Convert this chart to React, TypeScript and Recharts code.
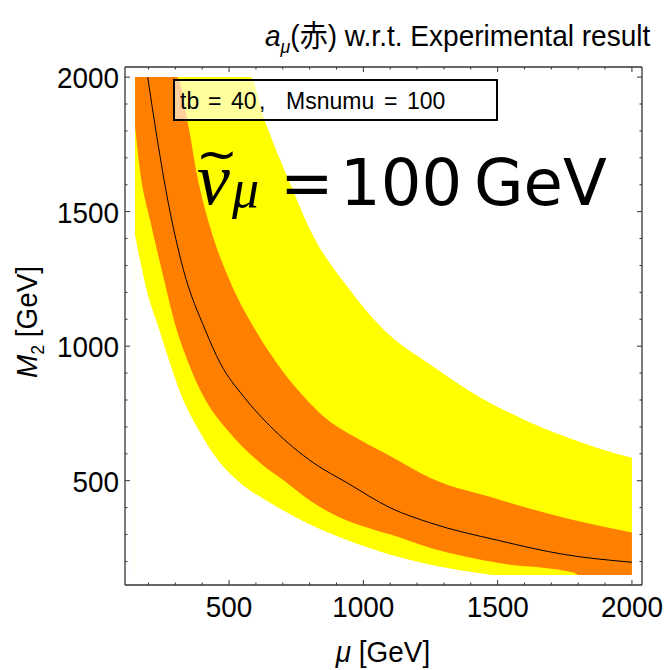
import React from 'react';
import { ComposedChart, Area, Line, XAxis, YAxis } from 'recharts';

// Boundaries: mu [GeV] and M2 [GeV]
const yellowUpperMu = [150, 579, 628, 722, 815, 940, 1076, 1250, 1437, 1599, 1748, 1872, 2000];
const yellowUpperM2 = [2000, 2000, 1853, 1618, 1407, 1222, 1061, 931, 808, 727, 665, 622, 585];

const orangeUpperMu = [150, 305, 349, 380, 430, 504, 604, 678, 778, 852, 964, 1101, 1250, 1499, 1748, 2000];
const orangeUpperM2 = [2000, 2000, 1816, 1640, 1440, 1240, 1050, 937, 813, 739, 665, 591, 510, 432, 362, 308];

const orangeLowerMu = [150, 168, 206, 249, 305, 349, 405, 492, 616, 716, 815, 902, 1039, 1101, 1250, 1499, 1785, 1800, 2000];
const orangeLowerM2 = [1816, 1655, 1469, 1284, 1061, 937, 813, 690, 566, 492, 417, 368, 318, 300, 250, 195, 158, 150, 150];

const yellowLowerMu = [150, 168, 198, 240, 280, 324, 386, 467, 542, 654, 790, 902, 1039, 1101, 1250, 1480];
const yellowLowerM2 = [1414, 1321, 1191, 1061, 937, 813, 690, 566, 492, 417, 343, 294, 244, 225, 188, 150];

const centralMu = [197, 231, 274, 330, 411, 467, 554, 666, 815, 940, 1101, 1250, 1499, 1748, 2000];
const centralM2 = [2000, 1779, 1531, 1284, 1061, 937, 813, 690, 566, 492, 399, 343, 279, 226, 197];

const allTicks = [200, 300, 400, 500, 600, 700, 800, 900, 1000, 1100, 1200, 1300, 1400, 1500, 1600, 1700, 1800, 1900, 2000];
const majorTicks = [500, 1000, 1500, 2000];

const DOMAIN: [number, number] = [112.5, 2037.5];
const FLOOR = 150;

const toPts = (mu: number[], m2: number[]) => mu.map((m, i) => ({ mu: m, m2: m2[i] }));
const yellowUpper = toPts(yellowUpperMu, yellowUpperM2);
const orangeUpper = toPts(orangeUpperMu, orangeUpperM2);
const orangeLower = toPts(orangeLowerMu, orangeLowerM2);
const yellowLower = toPts(yellowLowerMu, yellowLowerM2);
const central = toPts(centralMu, centralM2);

const SANS = "'Liberation Sans', Arial, sans-serif";
const SERIF = "'Liberation Serif', 'Times New Roman', serif";
const DEJAVU = "'DejaVu Sans', sans-serif";
const AXIS = '#333';
const FS = 30;
const SX = 0.93;

const isMajor = (v: number) => majorTicks.includes(v);

const BottomTick = (p: any) => {
  const { x, y, payload } = p;
  const v = payload.value;
  const m = isMajor(v);
  return (
    <g>
      <line x1={x} x2={x} y1={y} y2={y - (m ? 5 : 2.5)} stroke={AXIS} strokeWidth={1} />
      {m && (
        <text
          x={0}
          y={0}
          transform={`translate(${x},${y + 32}) scale(${SX},1)`}
          textAnchor="middle"
          fontFamily={SANS}
          fontSize={FS}
          fill="#000"
        >
          {v}
        </text>
      )}
    </g>
  );
};
const TopTick = (p: any) => {
  const { x, y, payload } = p;
  const m = isMajor(payload.value);
  return <line x1={x} x2={x} y1={y} y2={y + (m ? 5 : 2.5)} stroke={AXIS} strokeWidth={1} />;
};
const LeftTick = (p: any) => {
  const { x, y, payload } = p;
  const v = payload.value;
  const m = isMajor(v);
  return (
    <g>
      <line x1={x} x2={x + (m ? 5 : 2.5)} y1={y} y2={y} stroke={AXIS} strokeWidth={1} />
      {m && (
        <text
          x={0}
          y={0}
          transform={`translate(${x - 6},${y + 11}) scale(${SX},1)`}
          textAnchor="end"
          fontFamily={SANS}
          fontSize={FS}
          fill="#000"
        >
          {v}
        </text>
      )}
    </g>
  );
};
const RightTick = (p: any) => {
  const { x, y, payload } = p;
  const m = isMajor(payload.value);
  return <line x1={x} x2={x - (m ? 5 : 2.5)} y1={y} y2={y} stroke={AXIS} strokeWidth={1} />;
};

export default function App() {
  const areaCommon = {
    xAxisId: 'b',
    yAxisId: 'l',
    dataKey: 'm2',
    type: 'monotoneX' as const,
    baseValue: FLOOR,
    fillOpacity: 1,
    stroke: 'none',
    isAnimationActive: false,
    dot: false,
    activeDot: false,
  };
  return (
    <div style={{ position: 'absolute', left: 0, top: 0, width: 669, height: 670, background: '#fff' }}>
      <ComposedChart width={669} height={670} margin={{ top: 57, right: 17, bottom: 45, left: 65 }}>
        <XAxis
          xAxisId="b"
          dataKey="mu"
          type="number"
          domain={DOMAIN}
          allowDataOverflow
          ticks={allTicks}
          interval={0}
          tickSize={0}
          tickMargin={0}
          height={40}
          orientation="bottom"
          axisLine={{ stroke: AXIS, strokeWidth: 1.3 }}
          tickLine={false}
          tick={(p: any) => <BottomTick {...p} />}
        />
        <XAxis
          xAxisId="t"
          dataKey="mu"
          type="number"
          domain={DOMAIN}
          allowDataOverflow
          ticks={allTicks}
          interval={0}
          tickSize={0}
          tickMargin={0}
          height={10}
          orientation="top"
          axisLine={{ stroke: AXIS, strokeWidth: 1.3 }}
          tickLine={false}
          tick={(p: any) => <TopTick {...p} />}
        />
        <YAxis
          yAxisId="l"
          type="number"
          domain={DOMAIN}
          allowDataOverflow
          ticks={allTicks}
          interval={0}
          tickSize={0}
          tickMargin={0}
          width={60}
          orientation="left"
          axisLine={{ stroke: AXIS, strokeWidth: 1.3 }}
          tickLine={false}
          tick={(p: any) => <LeftTick {...p} />}
        />
        <YAxis
          yAxisId="r"
          type="number"
          domain={DOMAIN}
          allowDataOverflow
          ticks={allTicks}
          interval={0}
          tickSize={0}
          tickMargin={0}
          width={10}
          orientation="right"
          axisLine={{ stroke: AXIS, strokeWidth: 1.3 }}
          tickLine={false}
          tick={(p: any) => <RightTick {...p} />}
        />
        <Area {...areaCommon} data={yellowUpper} fill="#FFFF00" />
        <Area {...areaCommon} data={orangeUpper} fill="#FF8000" />
        <Area {...areaCommon} data={orangeLower} fill="#FFFF00" />
        <Area {...areaCommon} data={yellowLower} fill="#FFFFFF" />
        <Line
          xAxisId="b"
          yAxisId="l"
          data={central}
          dataKey="m2"
          type="monotoneX"
          stroke="#000"
          strokeWidth={1}
          dot={false}
          activeDot={false}
          isAnimationActive={false}
        />
      </ComposedChart>
      <svg
        width={669}
        height={670}
        style={{ position: 'absolute', left: 0, top: 0, pointerEvents: 'none' }}
      >
        {/* title */}
        <text
          x={0}
          y={0}
          transform={`translate(265,46) scale(0.935,1)`}
          fontFamily={SANS}
          fontSize={30}
          fill="#000"
        >
          <tspan fontStyle="italic">a</tspan>
          <tspan fontStyle="italic" fontSize={19} dy={7}>μ</tspan>
          <tspan dy={-7}>(</tspan>
          <tspan fontFamily="'Noto Sans CJK JP', sans-serif">赤</tspan>
          <tspan>) w.r.t. Experimental result</tspan>
        </text>

        {/* inset box */}
        <rect x={174} y={80} width={323} height={40} fill="#fff" fillOpacity={0.62} stroke="#000" strokeWidth={2} />
        <text fontFamily={SANS} fontSize={23} fill="#000" y={108.5}>
          <tspan x={180}>tb</tspan>
          <tspan x={208}>=</tspan>
          <tspan x={231}>40</tspan>
          <tspan x={259}>,</tspan>
          <tspan x={286}>Msnumu</tspan>
          <tspan x={384}>=</tspan>
          <tspan x={407}>100</tspan>
        </text>

        {/* big label: sneutrino symbol */}
        <text fill="#000">
          <tspan x={197} y={204} fontFamily={SERIF} fontStyle="italic" fontSize={74}>ν</tspan>
          <tspan x={196} y={171} fontFamily={DEJAVU} fontSize={50}>~</tspan>
          <tspan x={232} y={207} fontFamily={SERIF} fontStyle="italic" fontSize={54}>μ</tspan>
        </text>
        <text fill="#000" fontFamily={DEJAVU} fontSize={64} y={205}>
          <tspan x={280}>=</tspan>
          <tspan x={340}>100</tspan>
          <tspan x={474}>GeV</tspan>
        </text>

        {/* axis labels */}
        <text
          x={0}
          y={0}
          transform={`translate(383,662) scale(${SX},1)`}
          textAnchor="middle"
          fontFamily={SANS}
          fontSize={FS}
          fill="#000"
        >
          <tspan fontStyle="italic">μ</tspan>
          <tspan> [GeV]</tspan>
        </text>
        <text
          x={0}
          y={0}
          textAnchor="middle"
          fontFamily={SANS}
          fontSize={FS}
          fill="#000"
          transform={`translate(37,322) rotate(-90) scale(${SX},1)`}
        >
          <tspan fontStyle="italic">M</tspan>
          <tspan fontSize={19} dy={7}>2</tspan>
          <tspan dy={-7}> [GeV]</tspan>
        </text>
      </svg>
    </div>
  );
}
